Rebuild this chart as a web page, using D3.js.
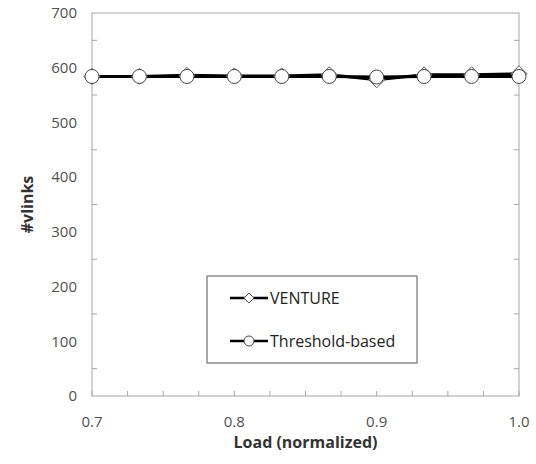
<!DOCTYPE html>
<html><head><meta charset="utf-8">
<script src="https://cdn.jsdelivr.net/npm/d3@7"></script>
<style>body{margin:0;background:#fff}</style>
</head><body>
<svg id="c" width="536" height="464"></svg>
<script>
const loads = [0.7, 0.7333, 0.7667, 0.8, 0.8333, 0.8667, 0.9, 0.9333, 0.9667, 1.0];
const venture = [584, 584, 586, 585, 585, 587, 578, 587, 587, 589];
const threshold = [584, 584, 584, 584, 584, 584, 583, 584, 584, 584];
const xTicks = [0.7, 0.8, 0.9, 1.0];
const yTicks = [0, 100, 200, 300, 400, 500, 600, 700];
const seriesNames = ["VENTURE", "Threshold-based"];

const svg = d3.select("#c");
const L = 92, R = 519, T = 13, B = 396;
const x = d3.scaleLinear().domain([0.7, 1.0]).range([L, R]);
const y = d3.scaleLinear().domain([0, 700]).range([B, T]);
const font = "'Open Sans', 'Liberation Sans', sans-serif";
const axisCol = "#a6a6a6";

// frame
svg.append("rect").attr("x", L).attr("y", T).attr("width", R - L).attr("height", B - T)
  .attr("fill", "none").attr("stroke", axisCol).attr("stroke-width", 1);

// minor ticks
const xMinor = d3.range(0, 13).map(i => 0.7 + i * 0.025);
svg.append("g").selectAll("line").data(xMinor).join("line")
  .attr("x1", d => x(d)).attr("x2", d => x(d)).attr("y1", B).attr("y2", B - 5)
  .attr("stroke", axisCol);
const yMinor = d3.range(50, 700, 100);
svg.append("g").selectAll("line").data(yMinor).join("line")
  .attr("x1", L).attr("x2", L + 5).attr("y1", d => y(d)).attr("y2", d => y(d))
  .attr("stroke", axisCol);
svg.append("g").selectAll("line").data(yMinor).join("line")
  .attr("x1", R).attr("x2", R - 5).attr("y1", d => y(d)).attr("y2", d => y(d))
  .attr("stroke", axisCol);

// tick labels
svg.append("g").selectAll("text").data(yTicks).join("text")
  .attr("x", L - 15).attr("y", d => y(d)).attr("dy", "0.35em").attr("text-anchor", "end")
  .attr("font-family", font).attr("font-size", 15).attr("fill", "#505050").text(d => d);
svg.append("g").selectAll("text").data(xTicks).join("text")
  .attr("x", d => x(d)).attr("y", B + 31).attr("text-anchor", "middle")
  .attr("font-family", font).attr("font-size", 15).attr("fill", "#505050").text(d => d.toFixed(1));

// axis titles
svg.append("text").attr("x", (L + R) / 2 + 0).attr("y", 448).attr("text-anchor", "middle")
  .attr("font-family", font).attr("font-size", 16).attr("font-weight", "bold").attr("fill", "#333")
  .text("Load (normalized)");
svg.append("text").attr("transform", `translate(33,${(T + B) / 2}) rotate(-90)`).attr("text-anchor", "middle")
  .attr("font-family", font).attr("font-size", 16).attr("font-weight", "bold").attr("fill", "#333")
  .text("#vlinks");

const line = d3.line().x((d, i) => x(loads[i])).y(d => y(d));
const diamondPath = s => `M0,${-s}L${s},0L0,${s}L${-s},0Z`;

// lines
svg.append("path").datum(venture).attr("d", line).attr("fill", "none").attr("stroke", "#000").attr("stroke-width", 3);
svg.append("path").datum(threshold).attr("d", line).attr("fill", "none").attr("stroke", "#000").attr("stroke-width", 3);

// markers
svg.append("g").selectAll("path").data(venture).join("path")
  .attr("d", diamondPath(8)).attr("transform", (d, i) => `translate(${x(loads[i])},${y(d)})`)
  .attr("fill", "#fff").attr("stroke", "#555").attr("stroke-width", 1);
svg.append("g").selectAll("circle").data(threshold).join("circle")
  .attr("cx", (d, i) => x(loads[i])).attr("cy", d => y(d)).attr("r", 7)
  .attr("fill", "#fff").attr("stroke", "#444").attr("stroke-width", 1);

// legend
const lg = svg.append("g");
lg.append("rect").attr("x", 207).attr("y", 276).attr("width", 210).attr("height", 87)
  .attr("fill", "#fff").attr("stroke", "#555").attr("stroke-width", 1);
const ly = [298, 341];
seriesNames.forEach((n, i) => {
  lg.append("line").attr("x1", 230).attr("x2", 268).attr("y1", ly[i]).attr("y2", ly[i])
    .attr("stroke", "#000").attr("stroke-width", 2.5);
  if (i === 0) {
    lg.append("path").attr("d", diamondPath(5))
      .attr("transform", `translate(249,${ly[i]})`).attr("fill", "#fff").attr("stroke", "#555");
  } else {
    lg.append("circle").attr("cx", 249).attr("cy", ly[i]).attr("r", 5)
      .attr("fill", "#fff").attr("stroke", "#444");
  }
  lg.append("text").attr("x", 270).attr("y", ly[i]).attr("dy", "0.35em")
    .attr("font-family", font).attr("font-size", 16).attr("fill", "#222").text(n);
});
</script>
</body></html>
